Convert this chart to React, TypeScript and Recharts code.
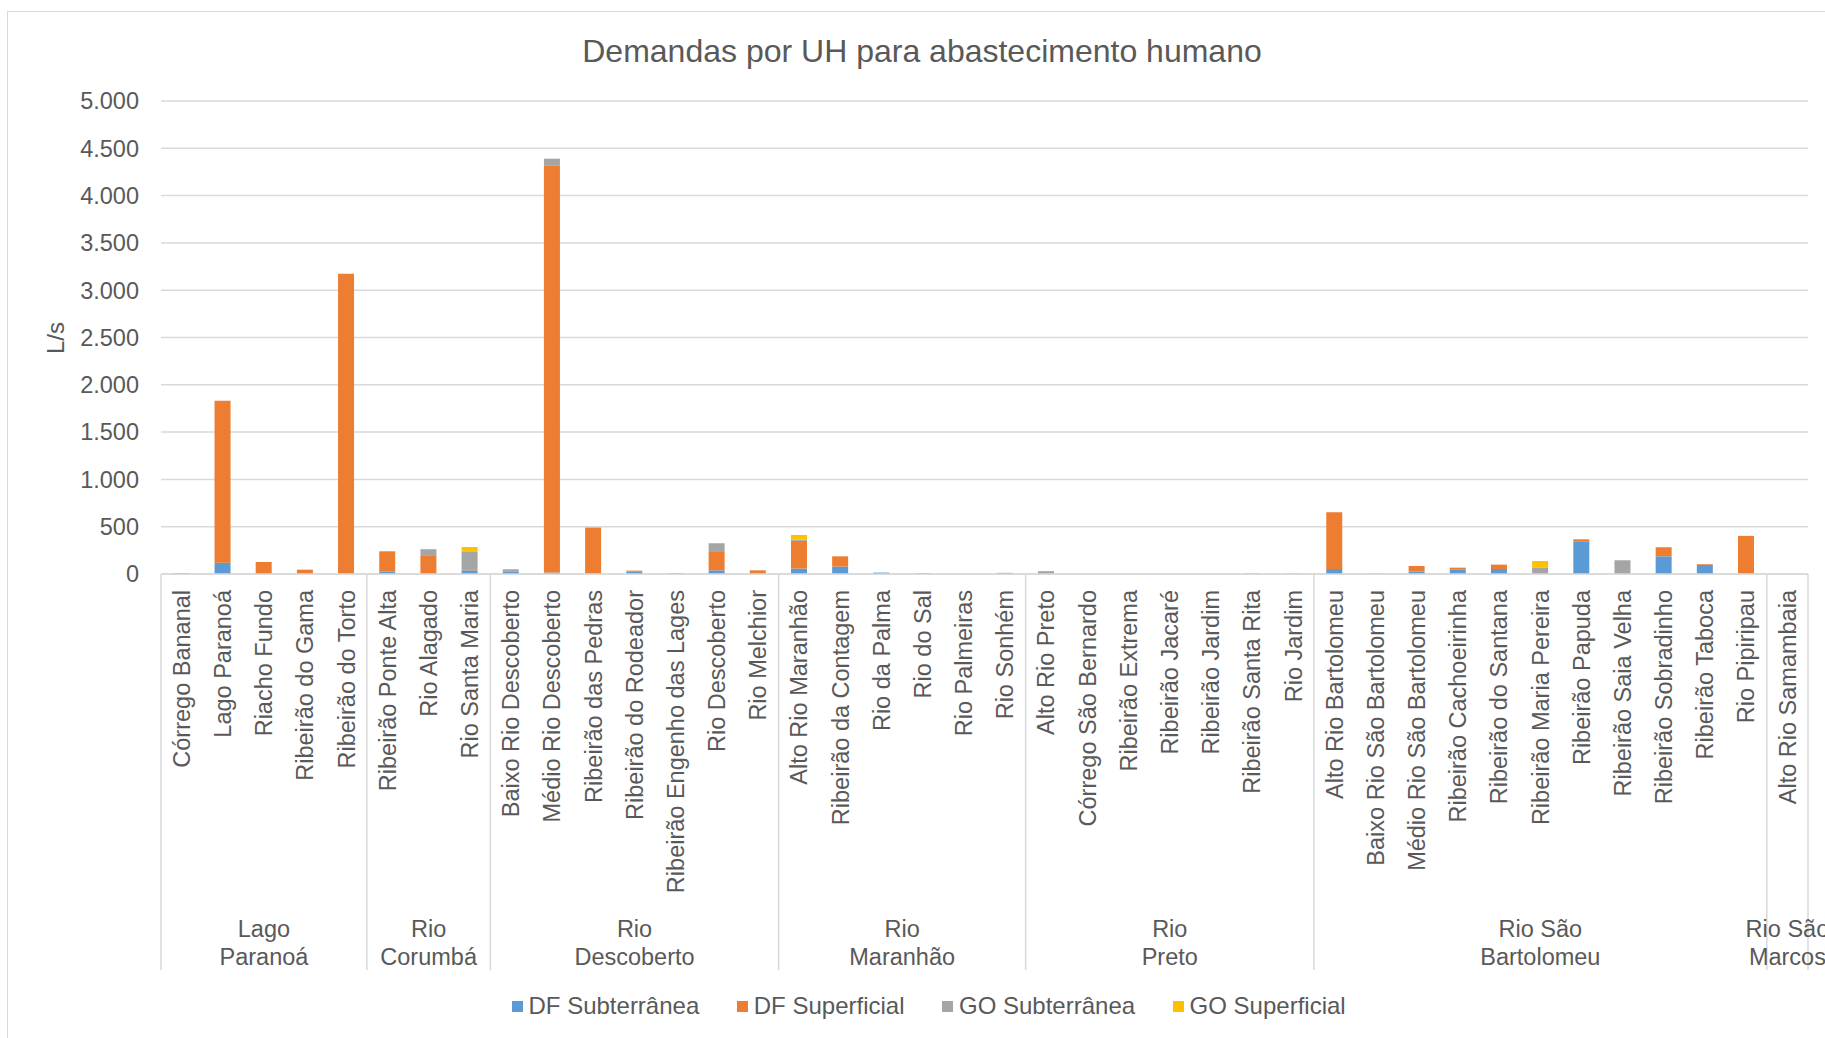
import { Bar, BarChart, CartesianGrid, XAxis, YAxis } from "recharts";

const categories = [
  "Córrego Bananal", "Lago Paranoá", "Riacho Fundo", "Ribeirão do Gama", "Ribeirão do Torto",
  "Ribeirão Ponte Alta", "Rio Alagado", "Rio Santa Maria",
  "Baixo Rio Descoberto", "Médio Rio Descoberto", "Ribeirão das Pedras", "Ribeirão do Rodeador",
  "Ribeirão Engenho das Lages", "Rio Descoberto", "Rio Melchior",
  "Alto Rio Maranhão", "Ribeirão da Contagem", "Rio da Palma", "Rio do Sal", "Rio Palmeiras", "Rio Sonhém",
  "Alto Rio Preto", "Córrego São Bernardo", "Ribeirão Extrema", "Ribeirão Jacaré", "Ribeirão Jardim",
  "Ribeirão Santa Rita", "Rio Jardim",
  "Alto Rio Bartolomeu", "Baixo Rio São Bartolomeu", "Médio Rio São Bartolomeu", "Ribeirão Cachoeirinha",
  "Ribeirão do Santana", "Ribeirão Maria Pereira", "Ribeirão Papuda", "Ribeirão Saia Velha",
  "Ribeirão Sobradinho", "Ribeirão Taboca", "Rio Pipiripau",
  "Alto Rio Samambaia",
];

const groupNames = [
  "Lago Paranoá", "Rio Corumbá", "Rio Descoberto", "Rio Maranhão", "Rio Preto",
  "Rio São Bartolomeu", "Rio São Marcos",
];
const groupSizes = [5, 3, 7, 6, 7, 11, 1];

const dfSubterranea = [
  2, 120, 10, 3, 5,
  25, 3, 39,
  28, 15, 3, 28, 0, 39, 3,
  57, 78, 15, 0, 0, 12,
  0, 0, 0, 0, 0, 5, 0,
  53, 0, 25, 50, 53, 0, 346, 0, 187, 96, 5,
  0,
];
const dfSuperficial = [
  8, 1712, 117, 43, 3170,
  215, 188, 4,
  0, 4307, 488, 8, 8, 194, 36,
  293, 109, 0, 0, 0, 0,
  0, 0, 0, 0, 0, 0, 5,
  600, 4, 60, 17, 46, 0, 21, 0, 96, 8, 398,
  0,
];
const goSubterranea = [
  0, 0, 0, 0, 0,
  0, 71, 190,
  22, 68, 0, 0, 0, 92, 0,
  14, 0, 0, 8, 0, 0,
  30, 0, 0, 0, 0, 0, 0,
  0, 0, 0, 0, 0, 65, 0, 145, 0, 0, 0,
  0,
];
const goSuperficial = [
  0, 0, 0, 0, 0,
  0, 0, 52,
  0, 0, 0, 0, 0, 0, 0,
  49, 0, 0, 0, 0, 0,
  0, 0, 0, 0, 0, 0, 0,
  0, 0, 0, 0, 0, 72, 0, 0, 0, 0, 0,
  0,
];

const yTicks = [0, 500, 1000, 1500, 2000, 2500, 3000, 3500, 4000, 4500, 5000];

const series = [
  { key: "dfSub", name: "DF Subterrânea", color: "#5B9BD5" },
  { key: "dfSup", name: "DF Superficial", color: "#ED7D31" },
  { key: "goSub", name: "GO Subterrânea", color: "#A5A5A5" },
  { key: "goSup", name: "GO Superficial", color: "#FFC000" },
];

const data = categories.map((name, i) => ({
  name,
  dfSub: dfSubterranea[i],
  dfSup: dfSuperficial[i],
  goSub: goSubterranea[i],
  goSup: goSuperficial[i],
}));

// which group each category belongs to, and whether it opens the group
const groupOf: number[] = [];
groupSizes.forEach((n, g) => {
  for (let k = 0; k < n; k++) groupOf.push(g);
});

const FONT = "'Liberation Sans', Arial, sans-serif";
const TEXT = "#595959";
const GRID = "#d9d9d9";
const W = 1836;
const H = 1040;
const M = { top: 89, right: 36, left: 0, bottom: 48 };
const Y_W = 153;
const CAT_H = 330;
const GRP_H = 100;
const PLOT_W = W - M.left - M.right - Y_W;

const fmt = (v: number) => String(v).replace(/\B(?=(\d{3})+(?!\d))/g, ".");

function CategoryTick(props: any) {
  const { x, y, payload } = props;
  const ty = y + 16;
  return (
    <text
      x={x}
      y={ty}
      transform={`rotate(-90 ${x} ${ty})`}
      textAnchor="end"
      dy="0.35em"
      fontSize={23.5}
      fontFamily={FONT}
      fill={TEXT}
    >
      {payload.value}
    </text>
  );
}

function GroupTick(props: any) {
  const { x, y, index } = props;
  const band = PLOT_W / categories.length;
  const g = groupOf[index];
  const first = index === 0 || groupOf[index - 1] !== g;
  const last = index === categories.length - 1;
  if (!first && !last) return <g />;
  const left = x - band / 2;
  const words = groupNames[g].split(" ");
  const line2 = words.pop();
  const line1 = words.join(" ");
  const cx = left + (groupSizes[g] * band) / 2;
  return (
    <g>
      {first && (
        <line x1={left} x2={left} y1={y - CAT_H} y2={y + 66} stroke={GRID} strokeWidth={1.5} />
      )}
      {last && (
        <line x1={x + band / 2} x2={x + band / 2} y1={y - CAT_H} y2={y + 66} stroke={GRID} strokeWidth={1.5} />
      )}
      {first && (
        <text textAnchor="middle" fontSize={23.5} fontFamily={FONT} fill={TEXT}>
          <tspan x={cx} y={y + 25} dy="0.35em">{line1}</tspan>
          <tspan x={cx} y={y + 53} dy="0.35em">{line2}</tspan>
        </text>
      )}
    </g>
  );
}

export default function App() {
  return (
    <>
      <style>{"html,body{overflow:hidden;}"}</style>
      <div
        style={{
          position: "absolute",
          left: 7,
          top: 11,
          width: W + 2,
          height: H + 2,
          border: `1px solid ${GRID}`,
          background: "#fff",
          fontFamily: FONT,
          color: TEXT,
        }}
      >
        <div
          style={{
            position: "absolute",
            left: 0,
            top: 23,
            width: 1828,
            height: 32,
            lineHeight: "32px",
            fontSize: 32,
            textAlign: "center",
            whiteSpace: "nowrap",
          }}
        >
          Demandas por UH para abastecimento humano
        </div>
        <div
          style={{
            position: "absolute",
            left: 48,
            top: 326,
            transform: "translate(-50%, -50%) rotate(-90deg)",
            fontSize: 24,
            lineHeight: "24px",
            whiteSpace: "nowrap",
          }}
        >
          L/s
        </div>
        <BarChart
          width={W}
          height={H}
          data={data}
          margin={M}
          barCategoryGap="30%"
        >
          <CartesianGrid vertical={false} stroke={GRID} strokeWidth={1.5} />
          <XAxis
            dataKey="name"
            interval={0}
            height={CAT_H}
            tickSize={0}
            tickMargin={0}
            tickLine={false}
            axisLine={{ stroke: GRID, strokeWidth: 1.5 }}
            tick={<CategoryTick />}
          />
          <XAxis
            xAxisId="grp"
            dataKey="name"
            interval={0}
            height={GRP_H}
            tickSize={0}
            tickMargin={0}
            tickLine={false}
            axisLine={false}
            tick={<GroupTick />}
          />
          <YAxis
            width={Y_W}
            domain={[0, 5000]}
            ticks={yTicks}
            interval={0}
            tickFormatter={fmt}
            axisLine={false}
            tickLine={false}
            tickSize={0}
            tickMargin={22}
            tick={{ fontSize: 23.5, fontFamily: FONT, fill: TEXT }}
          />
          {series.map((s) => (
            <Bar
              key={s.key}
              dataKey={s.key}
              name={s.name}
              stackId="a"
              fill={s.color}
              isAnimationActive={false}
            />
          ))}
        </BarChart>
        <div
          style={{
            position: "absolute",
            left: 504,
            top: 980,
            height: 28,
            display: "flex",
            alignItems: "center",
            fontSize: 24,
            lineHeight: "28px",
            whiteSpace: "nowrap",
          }}
        >
          {series.map((s, i) => (
            <div
              key={s.key}
              style={{ display: "flex", alignItems: "center", marginRight: i < series.length - 1 ? 38 : 0 }}
            >
              <span
                style={{ display: "inline-block", width: 11, height: 11, background: s.color, marginRight: 5.5 }}
              />
              <span>{s.name}</span>
            </div>
          ))}
        </div>
      </div>
    </>
  );
}
